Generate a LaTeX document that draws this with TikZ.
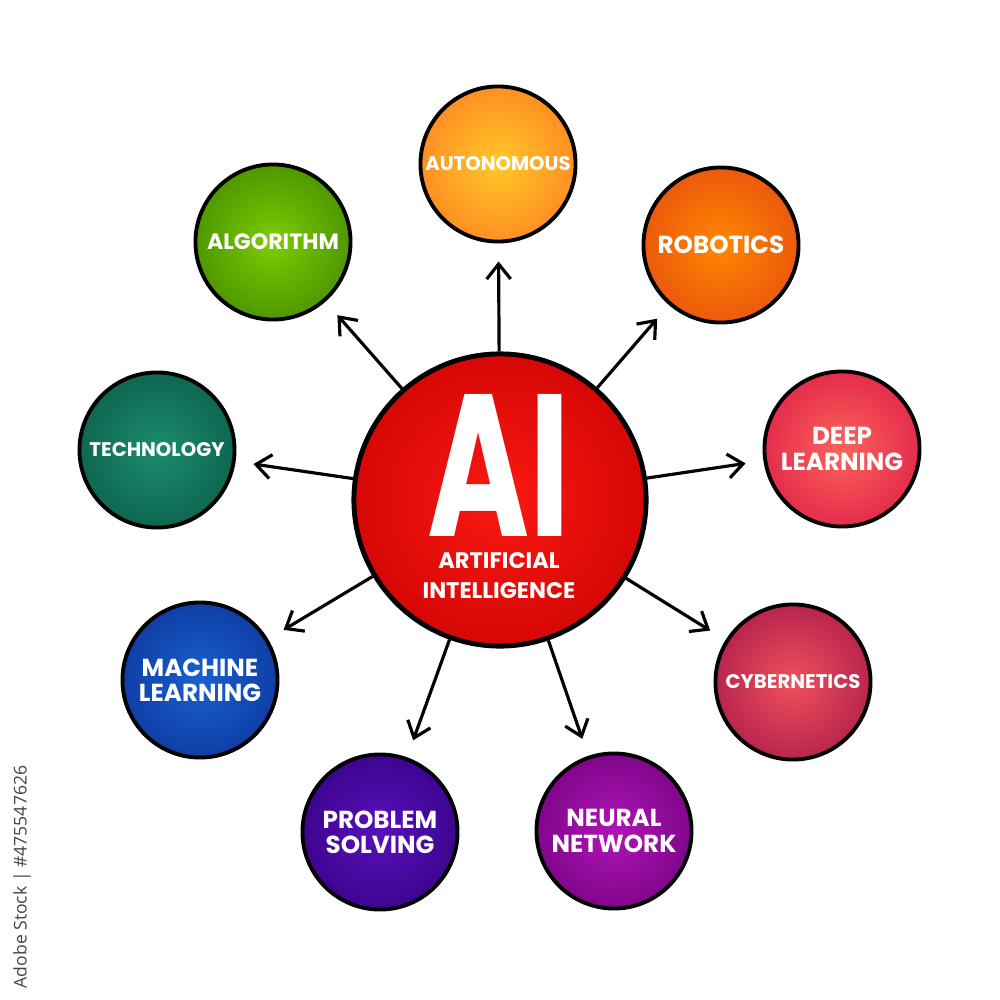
\documentclass[tikz,border=0pt]{standalone}
\usepackage{fontspec}
\setmainfont{Poppins}
\newfontfamily\stockfont{Open Sans}
\usepackage{graphicx}
\usetikzlibrary{arrows.meta}

% Colores (centro, borde)
\definecolor{aiIn}{RGB}{250,24,18}      \definecolor{aiOut}{RGB}{198,0,0}
\definecolor{autoIn}{RGB}{255,200,40}   \definecolor{autoOut}{RGB}{255,118,32}
\definecolor{roboIn}{RGB}{255,135,0}    \definecolor{roboOut}{RGB}{226,70,18}
\definecolor{deepIn}{RGB}{252,100,92}   \definecolor{deepOut}{RGB}{218,20,68}
\definecolor{cyberIn}{RGB}{238,80,92}   \definecolor{cyberOut}{RGB}{162,18,70}
\definecolor{neuralIn}{RGB}{175,20,185} \definecolor{neuralOut}{RGB}{108,0,118}
\definecolor{probIn}{RGB}{88,16,188}    \definecolor{probOut}{RGB}{50,0,124}
\definecolor{machIn}{RGB}{26,96,206}    \definecolor{machOut}{RGB}{10,48,148}
\definecolor{techIn}{RGB}{26,140,110}   \definecolor{techOut}{RGB}{10,86,68}
\definecolor{algoIn}{RGB}{125,205,0}    \definecolor{algoOut}{RGB}{58,128,0}
\definecolor{stockgray}{RGB}{70,70,70}

\colorlet{bolaint}{white}
\colorlet{bolaext}{black}
\pgfdeclareradialshading[bolaint,bolaext]{bola}{\pgfpointorigin}{color(0bp)=(bolaint); color(36bp)=(bolaext); color(50bp)=(bolaext)}

\tikzset{
  tonos/.code 2 args={\colorlet{bolaint}{#1}\colorlet{bolaext}{#2}},
  burbuja/.style 2 args={circle, draw=black, line width=1.1pt, minimum size=1.55cm,
    inner sep=0pt, tonos={#1}{#2}, shading=bola, text=white, align=center,
    font=\bfseries\fontsize{7}{7.2}\selectfont},
  chica/.style={font=\bfseries\fontsize{5.6}{6}\selectfont},
  rotulo/.style={text=white, inner sep=0pt, font=\bfseries\fontsize{6.4}{7}\selectfont},
  flecha/.style={-{Straight Barb[length=1.5mm,width=2.4mm]}, line width=0.9pt, shorten >=0.18cm}
}

\begin{document}
\begin{tikzpicture}[x=0.01cm, y=-0.01cm]
    \useasboundingbox[fill=white] (0,0) rectangle (1000,1000);

    % Nodo central
    \node[circle, draw=black, line width=1.4pt, minimum size=2.92cm, tonos={aiIn}{aiOut}, shading=bola] (ai) at (500,500) {};
    \node[text=white, inner sep=0pt] (sigla) at (499,465) {\resizebox{1.43cm}{1.42cm}{\bfseries AI}};
    \node[rotulo] (nombre) at (499,561) {ARTIFICIAL};
    \node[rotulo] (nombre2) at (499,591) {INTELLIGENCE};

    % Burbujas
    \node[burbuja={autoIn}{autoOut}, chica] (auto) at (498,164) {AUTONOMOUS};
    \node[burbuja={roboIn}{roboOut}] (robo) at (721,245) {ROBOTICS};
    \node[burbuja={deepIn}{deepOut}] (deep) at (842,449) {DEEP\\LEARNING};
    \node[burbuja={cyberIn}{cyberOut}, chica] (cyber) at (793,682) {CYBERNETICS};
    \node[burbuja={neuralIn}{neuralOut}] (neural) at (614,831) {NEURAL\\NETWORK};
    \node[burbuja={probIn}{probOut}] (prob) at (380,832) {PROBLEM\\SOLVING};
    \node[burbuja={machIn}{machOut}] (mach) at (200,680) {MACHINE\\LEARNING};
    \node[burbuja={techIn}{techOut}, chica] (tech) at (157,450) {TECHNOLOGY};
    \node[burbuja={algoIn}{algoOut}, font=\bfseries\fontsize{6.3}{7}\selectfont] (algo) at (273,242) {ALGORITHM};

    % Flechas
    \foreach \destino in {auto,robo,deep,cyber,neural,prob,mach,tech,algo}
        \draw[flecha] (ai) -- (\destino);

    % Marca de agua
    \node[rotate=90, text=stockgray, font=\stockfont\fontsize{5}{6}\selectfont] (stock) at (22,877) {Adobe Stock | \#475547626};
\end{tikzpicture}
\end{document}
